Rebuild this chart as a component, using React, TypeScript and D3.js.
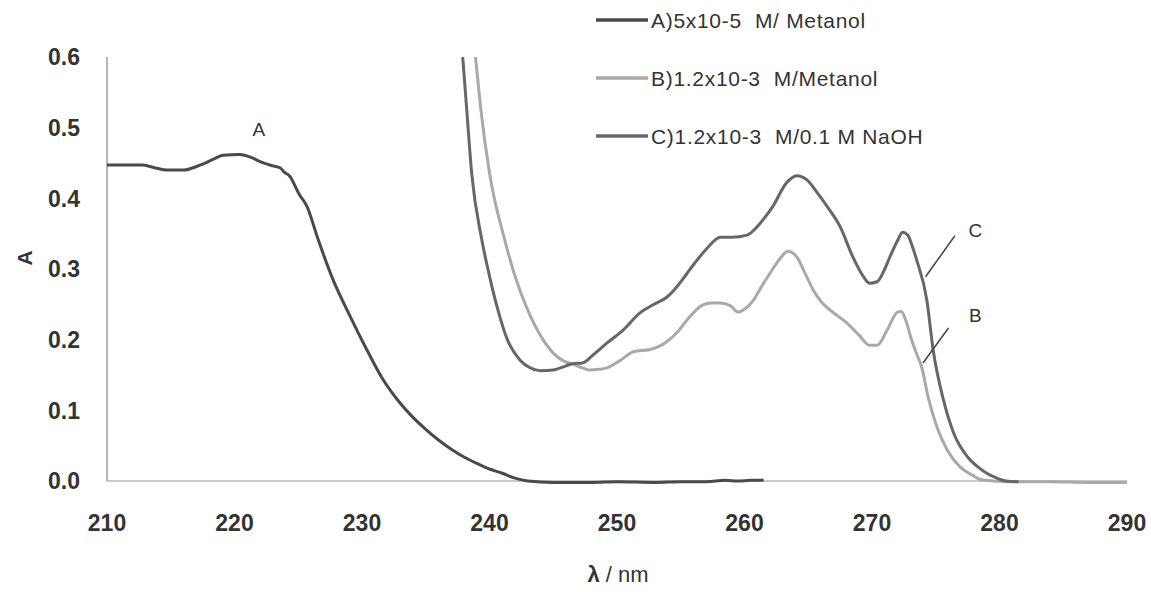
import React, { useEffect, useRef } from "react";
import * as d3 from "d3";

// absorbance spectra: [wavelength nm, absorbance]
const seriesA: [number, number][] = [
  [210, 0.447], [211, 0.447], [212.8, 0.447], [213.8, 0.443], [214.7, 0.44],
  [216, 0.44], [217.3, 0.447], [218.3, 0.455], [219.1, 0.461], [220.4, 0.462],
  [221.3, 0.458], [222, 0.452], [223, 0.446], [223.6, 0.443], [223.9, 0.437],
  [224.3, 0.432], [225.1, 0.405], [225.7, 0.388], [226.5, 0.345], [227.7, 0.286],
  [229.1, 0.232], [230.4, 0.185], [231.6, 0.145], [233, 0.11], [234, 0.09],
  [235, 0.073], [236, 0.058], [237, 0.045], [238, 0.034], [239, 0.025],
  [240, 0.017], [241, 0.011], [242, 0.004], [243, 0], [245, -0.002],
  [248, -0.002], [250, -0.001], [253, -0.002], [255, -0.001], [257, -0.001],
  [258.5, 0.001], [259.5, 0], [260.5, 0.001], [261.5, 0.001],
];

const seriesB: [number, number][] = [
  [238.9, 0.6], [239.3, 0.529], [240, 0.436], [241.2, 0.341], [242, 0.29],
  [242.9, 0.246], [244.2, 0.2], [245, 0.181], [245.8, 0.17], [246.6, 0.165],
  [247.3, 0.16], [247.8, 0.157], [248.6, 0.158], [249.2, 0.16], [250.2, 0.17],
  [251.3, 0.183], [252.6, 0.186], [253.9, 0.197], [254.8, 0.212], [255.5, 0.228],
  [256.7, 0.249], [257.4, 0.252], [258.1, 0.252], [258.9, 0.248], [259.5, 0.239],
  [260, 0.243], [260.7, 0.256], [261.3, 0.274], [262, 0.294], [262.8, 0.315],
  [263.4, 0.325], [264.1, 0.317], [264.8, 0.292], [265.4, 0.27], [266, 0.254],
  [266.7, 0.242], [268, 0.224], [269, 0.206], [269.8, 0.192], [270.4, 0.192],
  [271.2, 0.214], [272, 0.239], [272.3, 0.24], [272.6, 0.23], [273.1, 0.2],
  [273.5, 0.18], [273.9, 0.161], [274.4, 0.119], [275.1, 0.076], [275.9, 0.044],
  [276.9, 0.02], [277.9, 0.008], [278.5, 0.002], [279.5, 0], [281, -0.001],
  [284, -0.001], [287, -0.002], [290, -0.002],
];

const seriesC: [number, number][] = [
  [237.9, 0.6], [238.2, 0.529], [238.6, 0.436], [239.4, 0.341], [240, 0.29],
  [240.6, 0.246], [241.4, 0.2], [242.4, 0.171], [243.2, 0.16], [244, 0.156],
  [245, 0.157], [246, 0.163], [246.5, 0.166], [247.3, 0.167], [248.1, 0.178],
  [249.2, 0.195], [250.5, 0.214], [251.8, 0.238], [252.8, 0.249], [253.9, 0.26],
  [254.7, 0.275], [255.5, 0.294], [256.3, 0.313], [257.1, 0.33], [258.1, 0.345],
  [259, 0.345], [260.2, 0.348], [261, 0.36], [261.6, 0.373], [262.2, 0.388],
  [263.3, 0.422], [264.1, 0.432], [264.9, 0.426], [265.7, 0.408], [266.5, 0.388],
  [267.5, 0.36], [268.5, 0.317], [269.3, 0.29], [269.8, 0.28], [270.4, 0.282],
  [271, 0.3], [271.4, 0.317], [272, 0.34], [272.4, 0.352], [272.8, 0.348],
  [273.2, 0.33], [273.5, 0.313], [274.3, 0.256], [274.8, 0.185], [275.6, 0.115],
  [276.4, 0.068], [277.5, 0.034], [278.3, 0.02], [279, 0.011], [279.8, 0.004],
  [280.5, 0], [281.5, -0.001],
];

const xTicks = [210, 220, 230, 240, 250, 260, 270, 280, 290];
const yTicks = [0, 0.1, 0.2, 0.3, 0.4, 0.5, 0.6];

const legendLabels = ["A)5x10-5  M/ Metanol", "B)1.2x10-3  M/Metanol", "C)1.2x10-3  M/0.1 M NaOH"];

// curve labels with their leader lines, in data units
const curveNotes = [
  { text: "A", at: [221.9, 0.498], line: null },
  { text: "C", at: [278.1, 0.355], line: [[276.5, 0.347], [274.2, 0.289]] },
  { text: "B", at: [278.1, 0.235], line: [[276.0, 0.2165], [274.0, 0.167]] },
];

const colors = ["#4a4a4a", "#a9a9a9", "#676767"];

export default function App() {
  const ref = useRef<SVGSVGElement>(null);

  useEffect(() => {
    const svg = d3.select(ref.current);
    svg.selectAll("*").remove();

    const margin = { top: 57, right: 24, bottom: 111, left: 107 };
    const width = 1151 - margin.left - margin.right;
    const height = 592 - margin.top - margin.bottom;

    const x = d3.scaleLinear().domain([210, 290]).range([0, width]);
    const y = d3.scaleLinear().domain([0, 0.6]).range([height, 0]);

    const g = svg.append("g").attr("transform", `translate(${margin.left},${margin.top})`);
    const font = "'Liberation Sans', Arial, sans-serif";

    // axes: plain lines, no tick marks
    g.append("line")
      .attr("x1", 0).attr("x2", 0).attr("y1", 0).attr("y2", height)
      .attr("stroke", "#a0a0a0").attr("stroke-width", 1.5);
    g.append("line")
      .attr("x1", 0).attr("x2", width).attr("y1", height).attr("y2", height)
      .attr("stroke", "#b8b8b8").attr("stroke-width", 1.5);

    g.selectAll(".ytick")
      .data(yTicks)
      .enter()
      .append("text")
      .attr("x", -27)
      .attr("y", (d) => y(d))
      .attr("dy", "0.36em")
      .attr("text-anchor", "end")
      .style("font-family", font)
      .style("font-size", "23px")
      .style("font-weight", "bold")
      .style("fill", "#333")
      .text((d) => d3.format(".1f")(d));

    g.selectAll(".xtick")
      .data(xTicks)
      .enter()
      .append("text")
      .attr("x", (d) => x(d))
      .attr("y", height + 42)
      .attr("dy", "0.36em")
      .attr("text-anchor", "middle")
      .style("font-family", font)
      .style("font-size", "23px")
      .style("font-weight", "bold")
      .style("fill", "#333")
      .text((d) => d);

    // axis titles
    svg.append("text")
      .attr("transform", `translate(24,258) rotate(-90)`)
      .attr("dy", "0.36em")
      .attr("text-anchor", "middle")
      .style("font-family", font)
      .style("font-size", "21px")
      .style("font-weight", "bold")
      .style("fill", "#333")
      .text("A");

    const xt = svg.append("text")
      .attr("x", 618).attr("y", 574)
      .attr("dy", "0.36em")
      .attr("text-anchor", "middle")
      .style("font-family", font)
      .style("font-size", "22px")
      .style("fill", "#333");
    xt.append("tspan").style("font-weight", "bold").text("λ");
    xt.append("tspan").text(" / nm");

    // spectra
    const line = d3.line<[number, number]>()
      .x((d) => x(d[0]))
      .y((d) => y(d[1]))
      .curve(d3.curveMonotoneX);

    [seriesA, seriesB, seriesC].forEach((s, i) => {
      g.append("path")
        .datum(s)
        .attr("fill", "none")
        .attr("stroke", colors[i])
        .attr("stroke-width", 3)
        .attr("stroke-linejoin", "round")
        .attr("d", line);
    });

    // curve labels
    curveNotes.forEach((n) => {
      if (n.line) {
        g.append("line")
          .attr("x1", x(n.line[0][0])).attr("y1", y(n.line[0][1]))
          .attr("x2", x(n.line[1][0])).attr("y2", y(n.line[1][1]))
          .attr("stroke", "#444").attr("stroke-width", 1.5);
      }
      g.append("text")
        .attr("x", x(n.at[0]))
        .attr("y", y(n.at[1]))
        .attr("dy", "0.36em")
        .attr("text-anchor", "middle")
        .style("font-family", font)
        .style("font-size", "19px")
        .style("fill", "#333")
        .text(n.text);
    });

    // legend
    const lg = svg.append("g");
    legendLabels.forEach((label, i) => {
      const ly = 20 + i * 58;
      lg.append("line")
        .attr("x1", 596).attr("x2", 648).attr("y1", ly).attr("y2", ly)
        .attr("stroke", colors[i]).attr("stroke-width", 3.5);
      lg.append("text")
        .attr("x", 651).attr("y", ly)
        .attr("dy", "0.36em")
        .style("font-family", font)
        .style("font-size", "21px")
        .style("letter-spacing", "0.7px")
        .style("fill", "#333")
        .style("white-space", "pre")
        .text(label);
    });
  }, []);

  return (
    <svg
      ref={ref}
      width={1151}
      height={592}
      style={{ position: "absolute", left: 0, top: 0, background: "#fff" }}
    />
  );
}
